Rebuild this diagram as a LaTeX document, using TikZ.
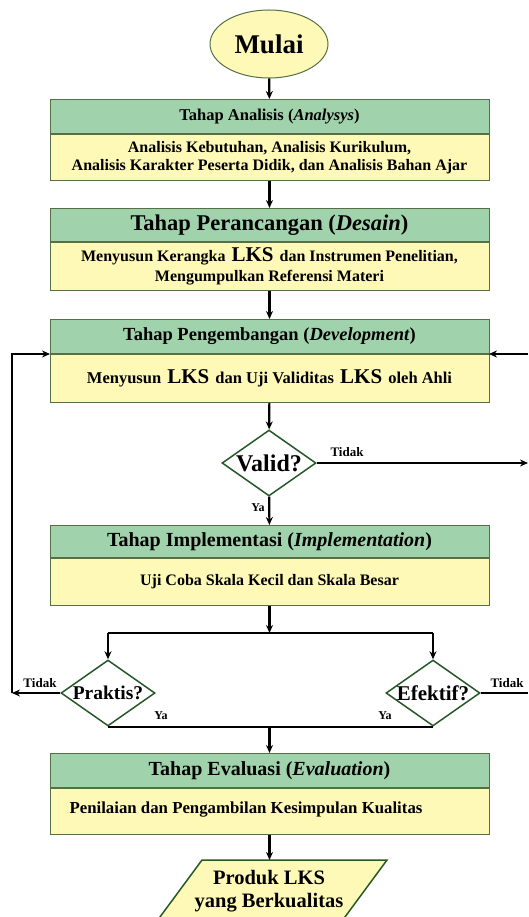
\documentclass[tikz,border=0pt]{standalone}
\usepackage{fontspec}
\setmainfont{Liberation Serif}
\usetikzlibrary{arrows.meta,shapes.geometric}
\definecolor{hdrc}{RGB}{160,211,172}
\definecolor{bdyc}{RGB}{255,249,184}
\definecolor{edgec}{RGB}{85,112,70}
\definecolor{dmdc}{RGB}{38,88,40}
\newcommand{\fsz}[2]{\fontsize{#1}{#2}\selectfont}
\newcommand{\lks}{\hspace{2pt}{\fontsize{21}{19}\selectfont LKS}\hspace{2pt}}
\begin{document}
\begin{tikzpicture}[x=1pt,y=-1pt,
  hdrbox/.style={draw=edgec, line width=1pt, fill=hdrc, minimum width=439pt, inner sep=0pt, anchor=north, font=\bfseries},
  bdybox/.style={draw=edgec, line width=1pt, fill=bdyc, minimum width=439pt, inner sep=0pt, anchor=north, font=\bfseries, align=center},
  dmdbox/.style={diamond, draw=dmdc, line width=1.5pt, fill=white, minimum width=94pt, minimum height=66pt, inner sep=0pt},
  dtext/.style={font=\bfseries\fsz{21}{24}, inner sep=0pt},
  conn/.style={line width=2.2pt, black},
  arr/.style={conn, -{Stealth[length=8pt,width=7pt]}},
  lbl/.style={font=\bfseries\fsz{13}{15}, inner sep=0pt}
]
\useasboundingbox (0,0) rectangle (528,917);

% start
\node[ellipse, draw=edgec, line width=1pt, fill=bdyc, minimum width=118pt, minimum height=68pt, inner sep=0pt, font=\bfseries\fsz{27}{30}] (start) at (269,44) {Mulai};

% box 1
\node[hdrbox, minimum height=34pt] (h1) at (269.5,99) {\fsz{16.5}{19}Tahap Analisis (\textit{Analysys})};
\node[bdybox, minimum height=46pt, font=\bfseries\fsz{16}{18}] (b1) at (h1.south) {Analisis Kebutuhan, Analisis Kurikulum,\\Analisis Karakter Peserta Didik, dan Analisis Bahan Ajar};

% box 2
\node[hdrbox, minimum height=33pt] (h2) at (269.5,208) {\fsz{22.5}{25}Tahap Perancangan (\textit{Desain})};
\node[bdybox, minimum height=48pt, font=\bfseries\fsz{16}{20}] (b2) at (h2.south) {Menyusun Kerangka \lks{} dan Instrumen Penelitian,\\Mengumpulkan Referensi Materi};

% box 3
\node[hdrbox, minimum height=34pt] (h3) at (269.5,319) {\fsz{18.5}{21}Tahap Pengembangan (\textit{Development})};
\node[bdybox, minimum height=48pt] (b3) at (h3.south) {\fsz{16.5}{19}Menyusun \lks{} dan Uji Validitas \lks{} oleh Ahli};

% valid decision
\node[dmdbox, label={[dtext, font=\bfseries\fsz{24}{26}]center:Valid?}] (valid) at (269,463) {};

% box 4
\node[hdrbox, minimum height=32pt] (h4) at (269.5,525) {\fsz{20}{22}Tahap Implementasi (\textit{Implementation})};
\node[bdybox, minimum height=47pt] (b4) at (h4.south) {\fsz{16}{18}Uji Coba Skala Kecil dan Skala Besar};

% branch decisions
\node[dmdbox, label={[dtext, font=\bfseries\fsz{19.5}{22}]center:Praktis?}] (prak) at (108,693) {};
\node[dmdbox, label={[dtext]center:Efektif?}] (efek) at (433,693) {};

% box 5
\node[hdrbox, minimum height=34pt] (h5) at (269.5,753) {\fsz{20}{22}Tahap Evaluasi (\textit{Evaluation})};
\node[bdybox, minimum height=46pt] (b5) at (h5.south) {};
\node[font=\bfseries\fsz{16.8}{19}, inner sep=0pt] (b5t) at (246,810) {Penilaian dan Pengambilan Kesimpulan Kualitas};

% output parallelogram
\draw[draw=dmdc, line width=1.5pt, fill=bdyc] (202,860) -- (387,860) -- (342,921) -- (157,921) -- cycle;
\coordinate (ptop) at (269.5,860);
\node[font=\bfseries\fsz{20.5}{23}, align=center, inner sep=0pt] (prod) at (269,891) {Produk LKS\\yang Berkualitas};

% helper coordinates
\coordinate (split) at (269.5,633);
\coordinate (splitL) at (108,633);
\coordinate (splitR) at (433,633);
\coordinate (joinM) at (269.5,726);
\coordinate (loopL) at (12,693);
\coordinate (loopLtop) at (12,354);
\coordinate (loopLin) at (50,354);
\coordinate (loopRtop) at (528,354);
\coordinate (loopRin) at (489,354);
\coordinate (efekOut) at (528,693);
\coordinate (validOut) at (528,463);

% connectors
\draw[arr] (start) -- (h1);
\draw[arr] (b1) -- (h2);
\draw[arr] (b2) -- (h3);
\draw[arr] (b3) -- (valid);
\draw[arr] (valid) -- (h4);
\draw[arr] (b4) -- (split);
\draw[conn] (splitL) -- (splitR);
\draw[arr] (splitL) -- (prak);
\draw[arr] (splitR) -- (efek);
\draw[conn] (prak.south) -- (efek.south);
\draw[arr] (joinM) -- (h5);
\draw[arr] (b5) -- (ptop);
\draw[arr] (valid) -- (validOut);
\draw[arr] (prak) -- (loopL);
\draw[arr] (loopL) -- (loopLtop) -- (loopLin);
\draw[conn] (efek) -- (efekOut);
\draw[arr] (loopRtop) -- (loopRin);

% labels
\node[lbl] (t1) at (347,452) {Tidak};
\node[lbl, font=\bfseries\fsz{12}{14}] (y1) at (258,508) {Ya};
\node[lbl] (t2) at (40,683) {Tidak};
\node[lbl] (t3) at (507,683) {Tidak};
\node[lbl, font=\bfseries\fsz{12}{14}] (y2) at (161,716) {Ya};
\node[lbl, font=\bfseries\fsz{12}{14}] (y3) at (385,716) {Ya};
\end{tikzpicture}
\end{document}
